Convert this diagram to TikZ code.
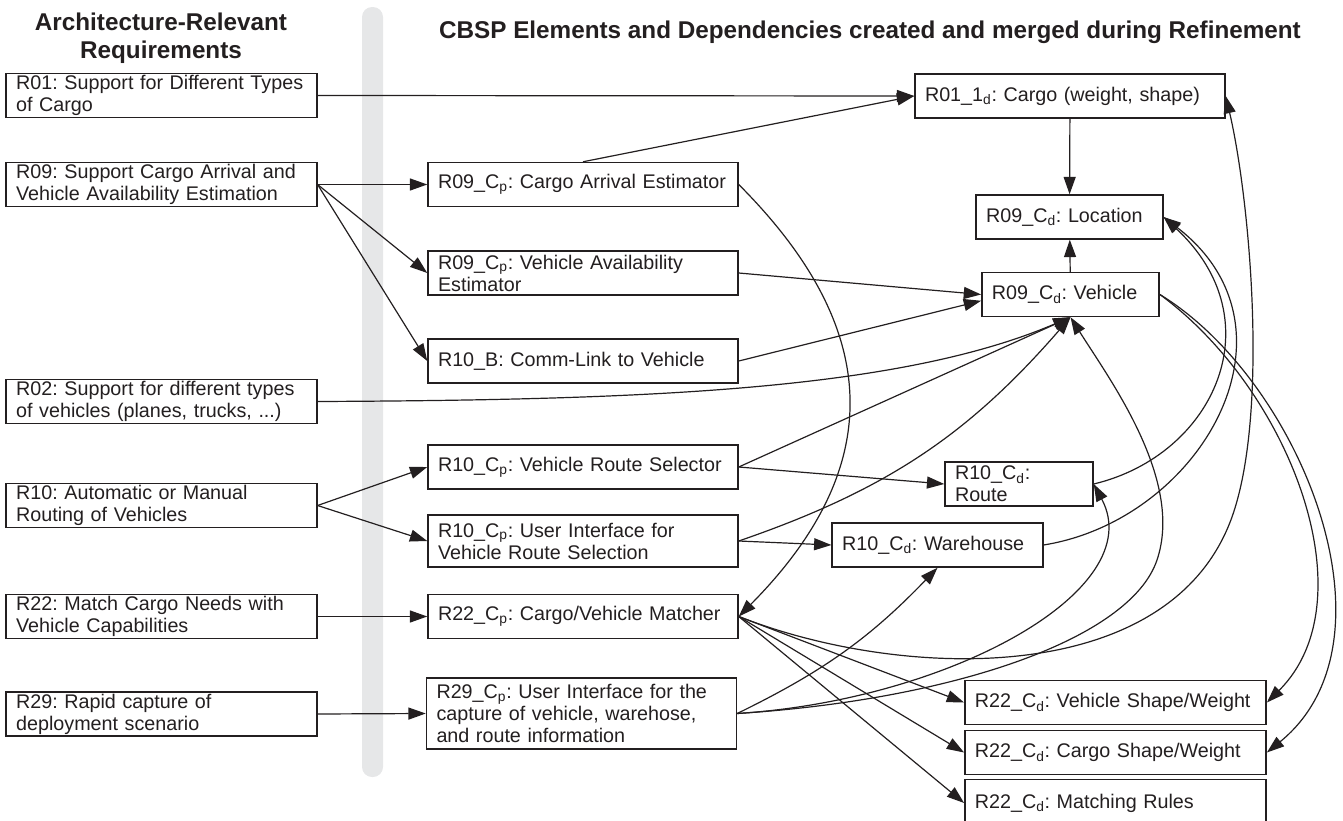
\documentclass[tikz,border=0pt]{standalone}
\usepackage{fontspec}
\setmainfont{Liberation Sans}
\usetikzlibrary{arrows.meta}
\definecolor{ink}{HTML}{231F20}
\definecolor{barcol}{HTML}{E6E7E8}
\newcommand{\boxfont}{\frenchspacing\fontsize{14.8pt}{16.5pt}\selectfont}
\newcommand{\headfont}{\frenchspacing\bfseries\fontsize{18.2pt}{21pt}\selectfont}
\newcommand{\Cp}{C\textsubscript{p}}
\newcommand{\Cd}{C\textsubscript{d}}

\begin{document}
\begin{tikzpicture}[x=0.75pt, y=-0.75pt,
        elem/.style={draw=ink, line width=1.1pt, fill=white, inner xsep=7.5pt, inner ysep=1pt,
                minimum height=33pt, align=left, text=ink, font=\boxfont, text width=#1},
        dep/.style={draw=ink, line width=0.9pt, -{Triangle[length=13pt,width=9pt]}},
        heading/.style={font=\headfont, text=ink, align=center}]
        \useasboundingbox (0,0) rectangle (1343,821);
        \fill[barcol, rounded corners=7.5pt] (362,7) rectangle (383,777);

        \node[heading] (lhead) at (161,38) {Architecture-Relevant\\Requirements};
        \node[heading] (rhead) at (870,32) {CBSP Elements and Dependencies created and merged during Refinement};

        \node[elem=218pt] (r01) at (161.5,95.5) {R01: Support for Different Types\\of Cargo};
        \node[elem=218pt] (r09) at (161.5,184.5) {R09: Support Cargo Arrival and\\Vehicle Availability Estimation};
        \node[elem=218pt] (r02) at (161.5,401.5) {R02: Support for different types\\of vehicles (planes, trucks, ...)};
        \node[elem=218pt] (r10) at (161.5,505.5) {R10: Automatic or Manual\\Routing of Vehicles};
        \node[elem=218pt] (r22) at (161.5,616.5) {R22: Match Cargo Needs with\\Vehicle Capabilities};
        \node[elem=218pt] (r29) at (161.5,714) {R29: Rapid capture of\\deployment scenario};

        \node[elem=217.5pt] (r09ca) at (583,184.5) {R09\_\Cp: Cargo Arrival Estimator};
        \node[elem=217.5pt] (r09va) at (583,273) {R09\_\Cp: Vehicle Availability\\Estimator};
        \node[elem=217.5pt] (r10b) at (583,361) {R10\_B: Comm-Link to Vehicle};
        \node[elem=217.5pt] (r10rs) at (583,467) {R10\_\Cp: Vehicle Route Selector};
        \node[elem=217.5pt, minimum height=39pt] (r10ui) at (583,541) {R10\_\Cp: User Interface for\\Vehicle Route Selection};
        \node[elem=217.5pt] (r22cm) at (583,616.5) {R22\_\Cp: Cargo/Vehicle Matcher};
        \node[elem=217.5pt, minimum height=53pt] (r29ui) at (581.5,713.5) {R29\_\Cp: User Interface for the\\capture of vehicle, warehose,\\and route information};

        \node[elem=217.5pt] (r01cargo) at (1070,96) {R01\_1\textsubscript{d}: Cargo (weight, shape)};
        \node[elem=125pt] (r09loc) at (1069.5,217) {R09\_\Cd: Location};
        \node[elem=118pt] (r09veh) at (1070.5,294.5) {R09\_\Cd: Vehicle};
        \node[elem=96pt] (r10route) at (1019,484) {R10\_\Cd:\\Route};
        \node[elem=143pt] (r10ware) at (937.5,545) {R10\_\Cd: Warehouse};
        \node[elem=211pt] (r22vs) at (1115.5,702.5) {R22\_\Cd: Vehicle Shape/Weight};
        \node[elem=211pt] (r22cs) at (1115.5,752.5) {R22\_\Cd: Cargo Shape/Weight};
        \node[elem=211pt, minimum height=35pt] (r22mr) at (1115.5,803) {R22\_\Cd: Matching Rules};

        \draw[dep] (r01.east) -- (r01cargo.west);
        \draw[dep] (r09.east) -- (r09ca.west);
        \draw[dep] (r09.east) -- (r09va.west);
        \draw[dep] (r09.east) -- (r10b.west);
        \draw[dep] (r02.east) .. controls (650,400) and (900,390) .. (r09veh.south);
        \draw[dep] (r10.east) -- (r10rs.west);
        \draw[dep] (r10.east) -- (r10ui.west);
        \draw[dep] (r22.east) -- (r22cm.west);
        \draw[dep] (r29.east) -- (r29ui.west);

        \draw[dep] (r09ca.north) -- (r01cargo.west);
        \draw[dep] (r09ca.east) .. controls (871,317) and (898,456) .. (r22cm.east);
        \draw[dep] (r09va.east) -- (r09veh.west);
        \draw[dep] (r10b.east) -- (r09veh.184);
        \draw[dep] (r10rs.east) -- (r09veh.south);
        \draw[dep] (r10rs.east) -- (r10route.west);
        \draw[dep] (r10ui.east) to[bend right=15] (r09veh.south);
        \draw[dep] (r10ui.east) -- (r10ware.west);
        \draw[dep] (r22cm.east) -- (r22vs.west);
        \draw[dep] (r22cm.east) -- (r22cs.west);
        \draw[dep] (r22cm.east) -- (r22mr.west);
        \draw[dep] (r22cm.east) .. controls (900,680) and (1170,690) .. (1232,517)
                .. controls (1269,413) and (1250,200) .. (r01cargo.east);
        \draw[dep] (r29ui.east) to[bend right=10] (r10ware.south);
        \draw[dep] (r29ui.east) .. controls (950,700) and (1150,590) .. (r10route.east);
        \draw[dep] (r29ui.east) .. controls (950,700) and (1130,640) .. (1157,560)
                .. controls (1184,480) and (1110,380) .. (r09veh.south);

        \draw[dep] (r01cargo) -- (r09loc);
        \draw[dep] (r09veh) -- (r09loc);
        \draw[dep] (r09veh.east) .. controls (1290,390) and (1370,600) .. (r22vs.east);
        \draw[dep] (r09veh.east) .. controls (1300,380) and (1405,640) .. (r22cs.east);
        \draw[dep] (r10route.east) .. controls (1215,455) and (1275,320) .. (r09loc.east);
        \draw[dep] (r10ware.east) .. controls (1200,520) and (1310,330) .. (r09loc.east);
\end{tikzpicture}
\end{document}
